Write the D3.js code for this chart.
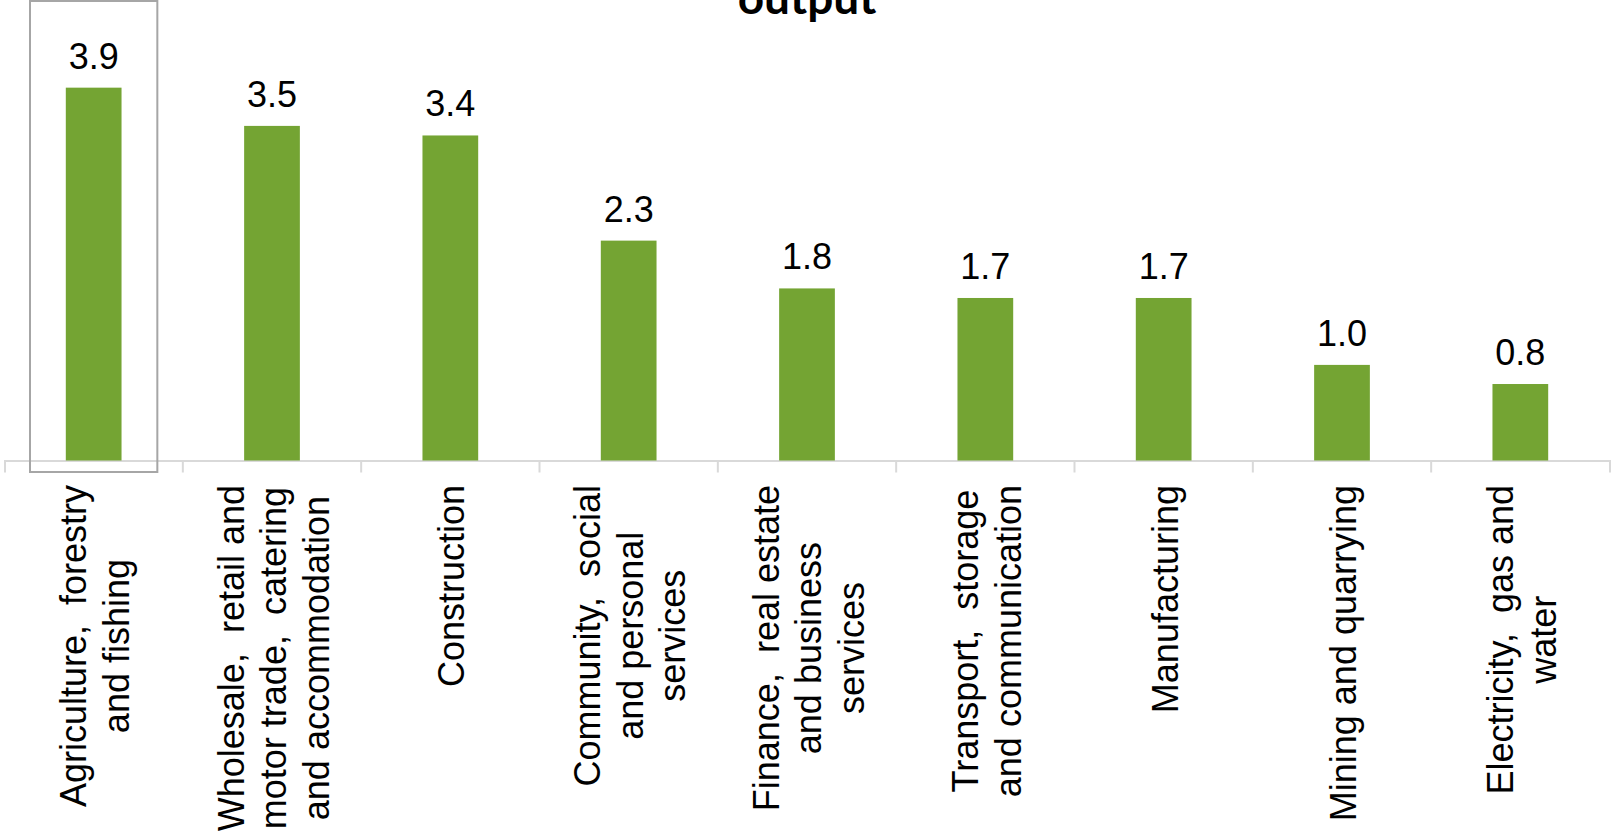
<!DOCTYPE html>
<html lang="en">
<head>
  <meta charset="UTF-8">
  <title>output</title>
  <script src="https://cdn.jsdelivr.net/npm/d3@7"></script>
  <style>
    html, body { margin: 0; padding: 0; background: #fff; }
    svg { display: block; }
  </style>
</head>
<body>
</body>
<script>
  // categories (label lines) and values
  const categories = [
    ['Agriculture,  forestry', 'and fishing'],
    ['Wholesale,  retail and', 'motor trade,  catering', 'and accommodation'],
    ['Construction'],
    ['Community,  social', 'and personal', 'services'],
    ['Finance,  real estate', 'and business', 'services'],
    ['Transport,  storage', 'and communication'],
    ['Manufacturing'],
    ['Mining and quarrying'],
    ['Electricity,  gas and', 'water']
  ]
  const values = [3.9, 3.5, 3.4, 2.3, 1.8, 1.7, 1.7, 1.0, 0.8]
  const titleText = 'output'

  drawChart()

  function drawChart() {
    const width = 1612
    const height = 835
    const axisY = 460.5
    const barColor = '#74a433'
    const axisColor = '#d9d9d9'
    const fontFamily = '"Liberation Sans", Arial, sans-serif'
    const labelSize = 36
    const lineHeight = 42.5

    const svg = d3.select('body').append('svg').attr('width', width).attr('height', height)

    const keys = categories.map((c, i) => i)

    const x = d3.scaleBand()
      .domain(keys)
      .range([4.5, 1609.5])
      .padding(0)

    const y = d3.scaleLinear()
      .domain([0, 4])
      .range([axisY, axisY - 4 * 95.6])

    const barW = x.bandwidth() / 3.2

    // x축 (domain line + end ticks)
    const xAxis = g => g
      .attr('transform', `translate(0,${axisY})`)
      .call(d3.axisBottom(x).tickSize(0).tickSizeOuter(12).tickFormat(''))
      .call(g => g.select('.domain').attr('stroke', axisColor).attr('stroke-width', 2))
      .call(g => g.selectAll('.tick').remove())
      .call(g => g.selectAll('line.sep')
        .data(keys.slice(1))
        .join('line')
        .attr('class', 'sep')
        .attr('x1', d => x(d)).attr('x2', d => x(d))
        .attr('y1', 0).attr('y2', 12)
        .attr('stroke', axisColor).attr('stroke-width', 2))

    svg.append('g').call(xAxis)

    // bars
    svg.append('g')
      .attr('fill', barColor)
      .selectAll('rect')
      .data(values)
      .join('rect')
      .attr('x', (d, i) => x(i) + (x.bandwidth() - barW) / 2)
      .attr('y', d => y(d))
      .attr('width', barW)
      .attr('height', d => y(0) - y(d))

    // value labels
    svg.append('g')
      .selectAll('text')
      .data(values)
      .join('text')
      .attr('x', (d, i) => x(i) + x.bandwidth() / 2)
      .attr('y', d => y(d) - 19)
      .attr('text-anchor', 'middle')
      .style('font-family', fontFamily)
      .style('font-size', labelSize + 'px')
      .attr('fill', '#000')
      .text(d => d3.format('.1f')(d))

    // category labels (rotated, top aligned, lines centred)
    const labelTop = 485
    const labels = svg.append('g')
      .selectAll('g')
      .data(categories)
      .join('g')
      .attr('transform', (d, i) => `translate(${x(i) + x.bandwidth() / 2},${labelTop}) rotate(-90)`)

    labels.each(function(lines) {
      const g = d3.select(this)
      const n = lines.length
      const texts = g.selectAll('text')
        .data(lines)
        .join('text')
        .attr('y', (d, j) => (j - (n - 1) / 2) * lineHeight + 14)
        .attr('text-anchor', 'middle')
        .style('font-family', fontFamily)
        .style('font-size', labelSize + 'px')
        .style('white-space', 'pre')
        .attr('fill', '#000')
        .text(d => d)
      let maxW = 0
      texts.each(function() { maxW = Math.max(maxW, this.getComputedTextLength()) })
      texts.attr('x', -maxW / 2)
    })

    // selection box around first category
    svg.append('rect')
      .attr('x', x(0) + 25.5)
      .attr('y', 1)
      .attr('width', x.bandwidth() - 51)
      .attr('height', 471)
      .attr('fill', 'none')
      .attr('stroke', '#a6a6a6')
      .attr('stroke-width', 2)

    // title (only the last line is visible)
    svg.append('text')
      .attr('x', (x.range()[0] + x.range()[1]) / 2)
      .attr('y', 14)
      .attr('text-anchor', 'middle')
      .style('font-family', 'Lato, "Open Sans", sans-serif')
      .style('font-weight', 'bold')
      .style('font-size', '46px')
      .attr('fill', '#000')
      .text(titleText)
  }
</script>
</html>
